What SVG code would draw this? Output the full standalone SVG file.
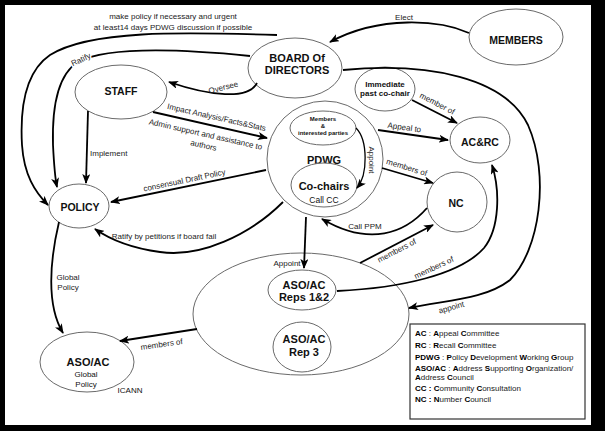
<svg xmlns="http://www.w3.org/2000/svg" width="605" height="431" viewBox="0 0 605 431">
<style>
.n{fill:#fff;stroke:#6a6a6a;stroke-width:1}
.t{font-family:"Liberation Sans",Arial,sans-serif;fill:#111;text-anchor:middle}
.b{font-weight:bold}
.c{fill:none;stroke:#000;stroke-width:1.8}
.l{font-family:"Liberation Sans",Arial,sans-serif;font-size:8px;fill:#222;text-anchor:middle}
.bg{stroke:#fff;stroke-width:3;paint-order:stroke}
.g{font-family:"Liberation Sans",Arial,sans-serif;font-size:8px;fill:#222}
.g tspan.k{font-weight:bold;fill:#000}
</style>
<defs>
<marker id="arr" viewBox="0 0 10 8" refX="9" refY="4" markerWidth="10" markerHeight="8" orient="auto" markerUnits="userSpaceOnUse">
<path d="M0,0 L10,4 L0,8 L2.5,4 Z" fill="#000"/>
</marker>
</defs>
<rect width="605" height="431" fill="#000"/>
<rect x="5" y="5" width="586" height="420" fill="#fff"/>

<g id="group-asoac">
<ellipse class="n" cx="301" cy="314" rx="108" ry="61"/>
</g>
<g id="pdwg">
<circle class="n" cx="325" cy="159" r="58"/>
<text class="t b" x="324" y="164" font-size="11">PDWG</text>
</g>
<g id="members-interested">
<ellipse class="n" cx="323" cy="128" rx="33" ry="17"/>
<text class="t b" x="323" y="121" font-size="6">Members</text>
<text class="t b" x="323" y="128" font-size="6">&amp;</text>
<text class="t b" x="323" y="135" font-size="6">interested parties</text>
</g>
<g id="cochairs">
<ellipse class="n" cx="324" cy="185" rx="33" ry="22"/>
<text class="t b" x="324" y="190" font-size="11">Co-chairs</text>
<text class="t" x="324" y="203" font-size="8.5">Call CC</text>
</g>
<g id="board">
<ellipse class="n" cx="295" cy="68" rx="47" ry="30"/>
<text class="t b" x="297" y="62" font-size="11">BOARD Of</text>
<text class="t b" x="297" y="74" font-size="11">DIRECTORS</text>
</g>
<g id="members">
<ellipse class="n" cx="516" cy="37" rx="47" ry="28"/>
<text class="t b" x="516" y="44" font-size="10.5">MEMBERS</text>
</g>
<g id="staff">
<ellipse class="n" cx="121" cy="92" rx="46" ry="27"/>
<text class="t b" x="121" y="95" font-size="10.5">STAFF</text>
</g>
<g id="policy">
<ellipse class="n" cx="79" cy="206" rx="30" ry="22"/>
<text class="t b" x="80" y="211" font-size="10.5">POLICY</text>
</g>
<g id="immediate">
<ellipse class="n" cx="385" cy="89" rx="30" ry="22"/>
<text class="t b" x="385" y="87" font-size="8">Immediate</text>
<text class="t b" x="385" y="95.5" font-size="8">past co-chair</text>
</g>
<g id="acrc">
<ellipse class="n" cx="480" cy="140" rx="30" ry="23"/>
<text class="t b" x="480" y="146" font-size="10.5">AC&amp;RC</text>
</g>
<g id="nc">
<ellipse class="n" cx="457" cy="202" rx="30" ry="30"/>
<text class="t b" x="456" y="207" font-size="10.5">NC</text>
</g>
<g id="reps12">
<ellipse class="n" cx="302" cy="290" rx="34" ry="20"/>
<text class="t b" x="304" y="289" font-size="11">ASO/AC</text>
<text class="t b" x="304" y="301" font-size="11">Reps 1&amp;2</text>
</g>
<g id="rep3">
<ellipse class="n" cx="302" cy="347" rx="29" ry="25"/>
<text class="t b" x="304" y="343" font-size="11">ASO/AC</text>
<text class="t b" x="304" y="356" font-size="11">Rep 3</text>
</g>
<g id="asoac-global">
<ellipse class="n" cx="87" cy="362" rx="47" ry="30"/>
<text class="t b" x="88" y="366" font-size="11">ASO/AC</text>
<text class="t" x="86" y="377" font-size="8">Global</text>
<text class="t" x="86" y="386.5" font-size="8">Policy</text>
<text class="t" x="130" y="393" font-size="8">ICANN</text>
</g>

<g id="connectors">
<path class="c" marker-end="url(#arr)" d="M 469 33 C 440 20, 380 15, 330 42"/>
<path class="c" marker-end="url(#arr)" d="M 277 35 C 180 32, 90 30, 50 55 C 25 72, 20 110, 22 145 C 24 175, 35 192, 48 205"/>
<path class="c" marker-end="url(#arr)" d="M 250 56 C 190 50, 110 45, 78 62 C 57 75, 52 110, 53 145 C 54 165, 55 178, 57 187"/>
<path class="c" marker-end="url(#arr)" d="M 257 83 C 248 100, 210 96, 169 82"/>
<path class="c" marker-end="url(#arr)" d="M 153 112 L 267 138"/>
<path class="c" marker-end="url(#arr)" d="M 88 111 L 86 183"/>
<path class="c" marker-end="url(#arr)" d="M 266 170 L 111 202"/>
<path class="c" marker-end="url(#arr)" d="M 283 202 C 250 235, 200 258, 160 252 C 130 248, 108 238, 95 229"/>
<path class="c" marker-end="url(#arr)" d="M 59 222 C 50 260, 46 305, 63 333"/>
<path class="c" marker-end="url(#arr)" d="M 197 329 L 120 341"/>
<path class="c" marker-end="url(#arr)" d="M 306 217 L 304 268"/>
<path class="c" marker-end="url(#arr)" d="M 360 263 L 433 225"/>
<path class="c" marker-end="url(#arr)" d="M 427 208 C 405 233, 370 247, 322 219"/>
<path class="c" marker-end="url(#arr)" d="M 337 291 C 400 288, 460 275, 484 248 C 500 228, 500 190, 492 165"/>
<path class="c" marker-end="url(#arr)" d="M 343 70 C 430 62, 505 78, 528 125 C 550 175, 540 250, 510 280 C 484 300, 445 300, 409 308"/>
<path class="c" marker-end="url(#arr)" d="M 412 100 L 457 123"/>
<path class="c" marker-end="url(#arr)" d="M 378 130 L 448 140"/>
<path class="c" marker-end="url(#arr)" d="M 382 168 L 433 183"/>
<path class="c" style="stroke-width:1.3" marker-end="url(#arr)" d="M 356 128 C 368 140, 368 175, 357 188"/>

<text class="l" x="404" y="20">Elect</text>
<text class="l" x="173" y="19">make policy if necessary and urgent</text>
<text class="l" x="173" y="30">at least14 days PDWG discussion if possible</text>
<text class="l bg" transform="translate(82 62) rotate(-25)">Ratify</text>
<text class="l" transform="translate(224 90) rotate(-14)">Oversee</text>
<text class="l" transform="translate(216 120) rotate(12.8)">Impact Analysis/Facts&amp;Stats</text>
<text class="l" transform="translate(205 137) rotate(12.8)">Admin support and assistance to</text>
<text class="l" transform="translate(203 148) rotate(12.8)">authors</text>
<text class="g" x="90" y="156">Implement</text>
<text class="l" transform="translate(185 183) rotate(-11.8)">consensual Draft Policy</text>
<text class="l" x="164" y="239">Ratify by petitions if board fail</text>
<text class="l" x="68" y="280">Global</text>
<text class="l" x="68" y="290">Policy</text>
<text class="l" transform="translate(162 347) rotate(-8)">members of</text>
<text class="l" x="287" y="266">Appoint</text>
<text class="l" transform="translate(398 253) rotate(-27.5)">members of</text>
<text class="l" x="365" y="229">Call PPM</text>
<text class="l" transform="translate(435 270) rotate(-25)">members of</text>
<text class="l" transform="translate(452 310) rotate(-16)">appoint</text>
<text class="l" transform="translate(436 106) rotate(27)">member of</text>
<text class="l" transform="translate(404 130) rotate(8)">Appeal to</text>
<text class="l" transform="translate(406 170) rotate(17)">members of</text>
<text class="l" transform="translate(369 160) rotate(90)">Appoint</text>
</g>

<g id="legend">
<rect x="410" y="324" width="175" height="95" fill="#fff" stroke="#333" stroke-width="1.2"/>
<text class="g" x="415" y="336"><tspan class="k">AC</tspan> : <tspan class="k">A</tspan>ppeal <tspan class="k">C</tspan>ommittee</text>
<text class="g" x="415" y="348"><tspan class="k">RC</tspan> : <tspan class="k">R</tspan>ecall <tspan class="k">C</tspan>ommittee</text>
<text class="g" x="415" y="360"><tspan class="k">PDWG</tspan> : <tspan class="k">P</tspan>olicy <tspan class="k">D</tspan>evelopment <tspan class="k">W</tspan>orking <tspan class="k">G</tspan>roup</text>
<text class="g" x="415" y="371"><tspan class="k">ASO/AC</tspan> : <tspan class="k">A</tspan>ddress <tspan class="k">S</tspan>upporting <tspan class="k">O</tspan>rganization/</text>
<text class="g" x="415" y="380"><tspan class="k">A</tspan>ddress <tspan class="k">C</tspan>ouncil</text>
<text class="g" x="415" y="391"><tspan class="k">CC :</tspan> <tspan class="k">C</tspan>ommunity <tspan class="k">C</tspan>onsultation</text>
<text class="g" x="415" y="402"><tspan class="k">NC :</tspan> <tspan class="k">N</tspan>umber <tspan class="k">C</tspan>ouncil</text>
</g>
</svg>
